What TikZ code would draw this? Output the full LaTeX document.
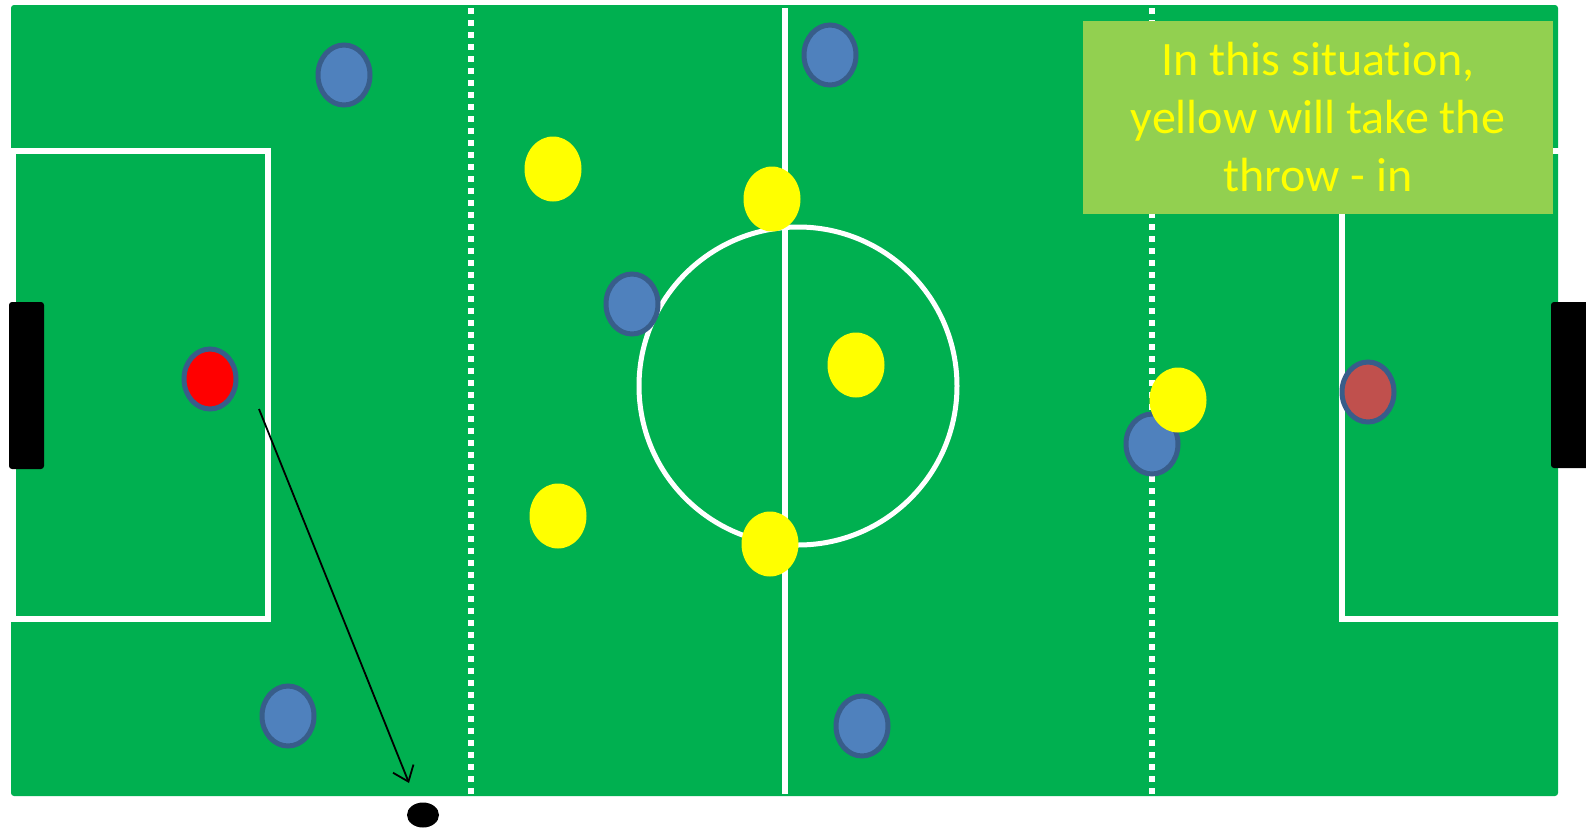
\documentclass[tikz,border=0pt]{standalone}
\usepackage{fontspec}
\setmainfont{Carlito}[Ligatures=NoCommon]
\usetikzlibrary{shapes.geometric,arrows.meta}
\definecolor{pitch}{HTML}{00B050}
\definecolor{note}{HTML}{92D050}
\definecolor{bluep}{HTML}{4F81BD}
\definecolor{blueb}{HTML}{385D8A}
\definecolor{yellowp}{HTML}{FFFF00}
\definecolor{redk}{HTML}{C0504D}
\begin{document}
\begin{tikzpicture}[x=0.5pt,y=-0.5pt,
	mark line/.style={white,line width=2.6pt},
	zone line/.style={white,line width=3pt,dash pattern=on 3pt off 3pt},
	blueman/.style={ellipse,draw=blueb,line width=2.5pt,fill=bluep,minimum width=26pt,minimum height=30pt,inner sep=0pt},
	yellowman/.style={ellipse,fill=yellowp,minimum width=28.5pt,minimum height=32.5pt,inner sep=0pt},
	goalbox/.style={fill=black,rounded corners=1.5pt}]
	\useasboundingbox (0,0) rectangle (1586,836);
	% pitch and markings
	\fill[pitch,rounded corners=1.5pt] (11,5) rectangle (1558,796);
	\draw[mark line] (13,151) rectangle (268,619);
	\draw[mark line] (1560,151) -- (1342,151) -- (1342,619) -- (1560,619);
	\draw[mark line] (785,8) -- (785,794);
	\draw[zone line] (471,8) -- (471,794);
	\draw[zone line] (1152,8) -- (1152,794);
	\draw[mark line,line width=2.5pt] (798,386) circle [radius=79.5pt];
	\fill[goalbox] (9,302) rectangle (44,469);
	\fill[goalbox] (1551,302) rectangle (1590,468);
	% note
	\node[fill=note,text=yellowp,minimum width=235pt,minimum height=96.5pt,inner sep=0pt,align=center,
		font=\fontsize{24}{29}\selectfont] (note) at (1318,117.5) {In this situation,\\yellow will take the\\throw - in};
	% players
	\node[blueman] (b1) at (344,75) {};
	\node[blueman] (b2) at (830,55) {};
	\node[blueman] (b3) at (632,304) {};
	\node[blueman] (b4) at (288,716) {};
	\node[blueman] (b5) at (862,726) {};
	\node[blueman] (b6) at (1152,444) {};
	\node[blueman,fill=red] (kl) at (210,379) {};
	\node[blueman,fill=redk] (kr) at (1368,392) {};
	\node[yellowman] (y1) at (553,169) {};
	\node[yellowman] (y2) at (772,199) {};
	\node[yellowman] (y3) at (856,365) {};
	\node[yellowman] (y4) at (558,516) {};
	\node[yellowman] (y5) at (770,544) {};
	\node[yellowman] (y6) at (1178,400) {};
	% ball out of play
	\node[ellipse,fill=black,minimum width=16pt,minimum height=12.5pt,inner sep=0pt] (ball) at (423,815) {};
	\coordinate (kick) at (259,409);
	\coordinate (out) at (409,783);
	\draw[line width=0.9pt,-{Straight Barb[length=7pt,width=11pt,line width=0.9pt]}] (kick) -- (out);
\end{tikzpicture}
\end{document}
